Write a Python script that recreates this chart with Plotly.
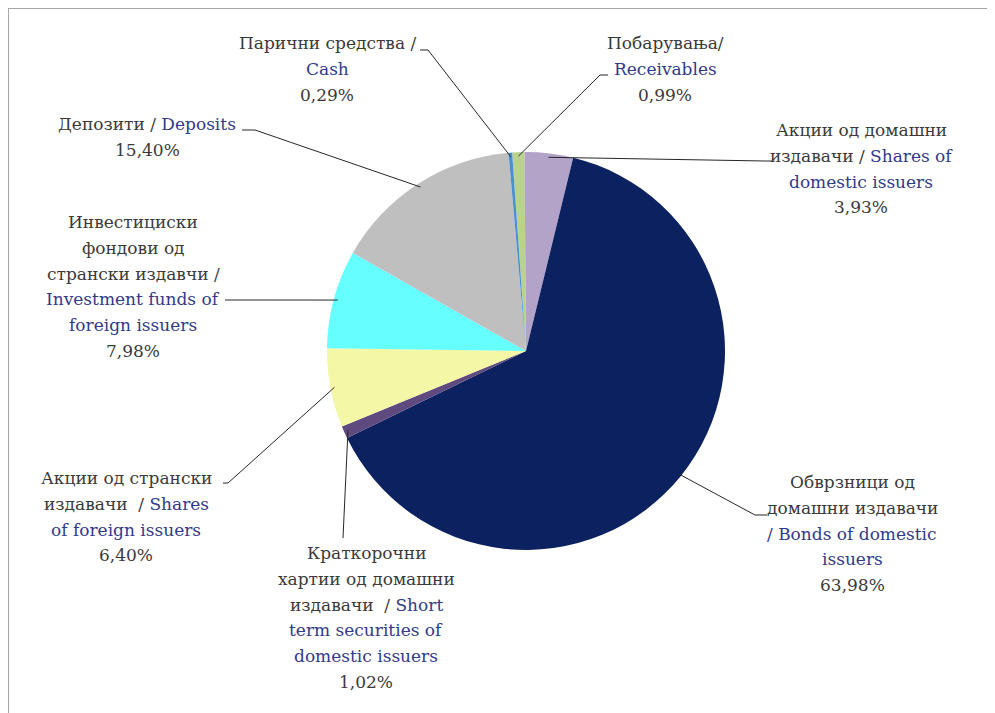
import math
import plotly.graph_objects as go

# page has an 8px body margin, so the figure is drawn 8px in from the window edge
OFF = 8
W, H = 995 - OFF, 713 - OFF

# Portfolio structure (clockwise from the top)
names_mk = ["Побарувања", "Акции од домашни издавачи", "Обврзници од домашни издавачи",
            "Краткорочни хартии од домашни издавачи", "Акции од странски издавачи",
            "Инвестициски фондови од странски издавчи", "Депозити", "Парични средства"]
names_en = ["Receivables", "Shares of domestic issuers", "Bonds of domestic issuers",
            "Short term securities of domestic issuers", "Shares of foreign issuers",
            "Investment funds of foreign issuers", "Deposits", "Cash"]
values = [0.99, 3.93, 63.98, 1.02, 6.40, 7.98, 15.40, 0.29]
colors = ["#B9D38E", "#B3A3C9", "#0B2160", "#5E4A7E", "#F4F7A6", "#66FFFF", "#BFBFBF", "#4A8FD1"]

# label text as it wraps in the picture; {...} marks the English part
label_lines = [
    ["Побарувања/", "{Receivables}"],
    ["Акции од домашни", "издавачи / {Shares of}", "{domestic issuers}"],
    ["Обврзници од", "домашни издавачи", "{/ Bonds of domestic}", "{issuers}"],
    ["Краткорочни", "хартии од домашни", "издавачи  / {Short}", "{term securities of}", "{domestic issuers}"],
    ["Акции од странски", "издавачи  / {Shares}", "{of foreign issuers}"],
    ["Инвестициски", "фондови од", "странски издавчи /", "{Investment funds of}", "{foreign issuers}"],
    ["Депозити / {Deposits}"],
    ["Парични средства /", "{Cash}"],
]

# layout (window pixels): label centre x / first line y, leader elbow and end
label_pos = [(665, 43), (861, 130), (852, 482), (366, 553), (126, 478), (133, 222), (147, 124), (327, 43)]
leader_elbow = [(600, 75), (765, 161), (755, 515), (343, 538), (228, 483), (225, 300), (255, 130), (428, 50)]
leader_end = [(608, 75), (772, 161), (767, 515), (343, 538), (223, 483), (225, 300), (242, 130), (420, 50)]

CX, CY, R = 526, 351, 199
ROT = -4
LINE_H = 25.8
FONT = "DejaVu Serif"
FSIZE = 17
TXT = "#3A3A3A"
EN = "#323A8A"


def px(x, y):
    return (x - OFF) / W, 1 - (y - OFF) / H


fig = go.Figure()
x0, y1 = px(CX - R, CY - R)
x1, y0 = px(CX + R, CY + R)
fig.add_trace(go.Pie(
    values=values, labels=names_en, sort=False, direction="clockwise", rotation=ROT,
    marker=dict(colors=colors, line=dict(width=0)),
    textinfo="none", hoverinfo="label+percent", showlegend=False,
    domain=dict(x=[x0, x1], y=[y0, y1]),
))

shapes = []
annotations = []
total = sum(values)
cum = 0
for i, v in enumerate(values):
    mid = (cum + v / 2) / total * 360 + ROT
    cum += v
    a = math.radians(mid)
    sx, sy = CX + 0.98 * R * math.sin(a), CY - 0.98 * R * math.cos(a)
    pts = [px(sx, sy), px(*leader_elbow[i]), px(*leader_end[i])]
    path = "M {} {} L {} {} L {} {}".format(*[c for p in pts for c in p])
    shapes.append(dict(type="path", xref="paper", yref="paper", path=path,
                       line=dict(color="#262626", width=1)))

    lines = label_lines[i] + [f"{v:.2f}".replace(".", ",") + "%"]
    lx, ly = label_pos[i]
    for k, ln in enumerate(lines):
        t = ln.replace("{", f"<span style='color:{EN}'>").replace("}", "</span>")
        x, y = px(lx, ly + k * LINE_H)
        annotations.append(dict(x=x, y=y, xref="paper", yref="paper", text=t, showarrow=False,
                                xanchor="center", yanchor="middle",
                                font=dict(family=FONT, size=FSIZE, color=TXT)))

# frame (top and left edges visible)
shapes.append(dict(type="line", xref="paper", yref="paper", x0=0, x1=1, y0=1, y1=1,
                   line=dict(color="#A6A6A6", width=2)))
shapes.append(dict(type="line", xref="paper", yref="paper", x0=0, x1=0, y0=0, y1=1,
                   line=dict(color="#A6A6A6", width=2)))

fig.update_layout(
    width=W, height=H, margin=dict(l=0, r=0, t=0, b=0),
    paper_bgcolor="white", plot_bgcolor="white",
    shapes=shapes, annotations=annotations,
)

fig.write_html("out.html")
